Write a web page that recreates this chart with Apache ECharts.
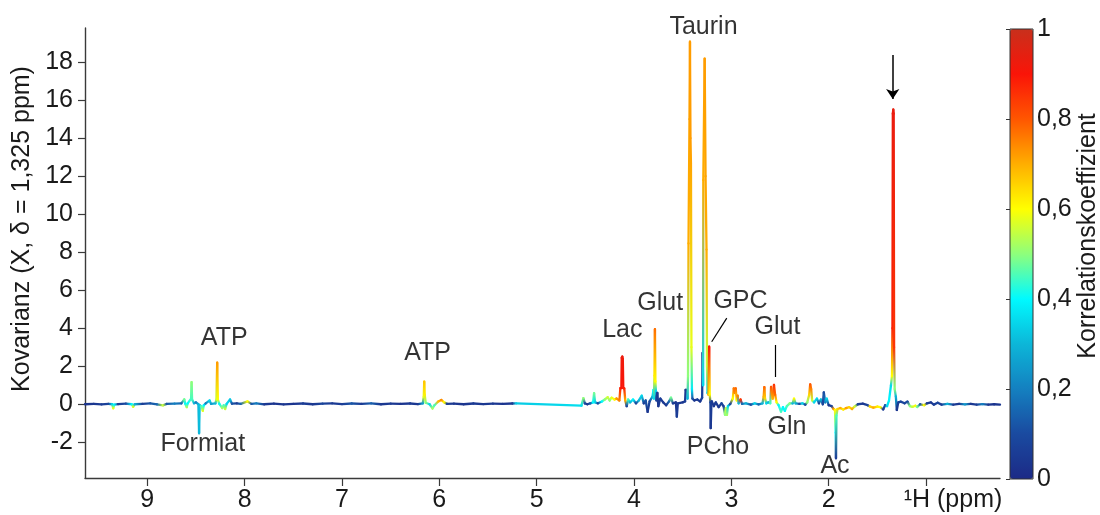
<!DOCTYPE html>
<html><head><meta charset="utf-8">
<script src="https://cdn.jsdelivr.net/npm/echarts@6/dist/echarts.min.js"></script>
<style>html,body{margin:0;padding:0;background:#fff}#c{width:1100px;height:515px}</style>
</head><body><div id="c"></div>
<script>
// ---- axis ticks ----
const xTicks = [1, 2, 3, 4, 5, 6, 7, 8, 9];
const yTicks = [-2, 0, 2, 4, 6, 8, 10, 12, 14, 16, 18];
const jetColors = ['#1c2a86', '#1a4aa0', '#1480c0', '#0cb6d8', '#00faff', '#8eff7c', '#ffff00', '#ffae00', '#ff5600', '#fa1408', '#c8301c'];

// ---- spectrum: [ppm, covariance, correlation] ----
const regionAromatic = [
  [9.64, 0.00, 0.03], [9.55, 0.02, 0.04], [9.47, -0.01, 0.06], [9.40, 0.02, 0.08],
  [9.36, 0.00, 0.35], [9.35, -0.21, 0.58], [9.34, -0.02, 0.40], [9.30, 0.01, 0.06],
  [9.22, 0.03, 0.10], [9.16, 0.00, 0.40], [9.145, -0.13, 0.57], [9.13, 0.00, 0.30],
  [9.05, 0.02, 0.06], [8.97, 0.05, 0.12], [8.90, 0.00, 0.15], [8.84, -0.06, 0.55],
  [8.80, 0.02, 0.12], [8.72, 0.03, 0.20], [8.65, 0.05, 0.15], [8.62, 0.26, 0.48],
  [8.61, 0.03, 0.40], [8.595, -0.15, 0.52], [8.585, 0.05, 0.40], [8.55, 0.30, 0.45],
  [8.545, 1.16, 0.50], [8.54, 0.25, 0.45], [8.52, 0.05, 0.30], [8.50, 0.10, 0.20],
  [8.475, 0.00, 0.30], [8.468, -1.53, 0.30], [8.462, -0.05, 0.32], [8.445, -0.10, 0.45],
  [8.43, -0.34, 0.57], [8.42, -0.05, 0.40], [8.40, 0.05, 0.20], [8.36, 0.20, 0.35],
  [8.345, 0.02, 0.25], [8.30, 0.05, 0.30], [8.29, 0.25, 0.55], [8.282, 2.19, 0.72],
  [8.275, 0.25, 0.60], [8.26, 0.02, 0.40], [8.23, -0.20, 0.52], [8.215, -0.05, 0.45],
  [8.20, -0.25, 0.55], [8.185, 0.02, 0.35], [8.15, 0.25, 0.33], [8.13, 0.03, 0.12],
  [8.08, 0.05, 0.06], [8.04, 0.02, 0.15], [7.97, 0.15, 0.60], [7.93, 0.02, 0.12],
  [7.88, 0.05, 0.20], [7.80, 0.00, 0.05]
];
const regionMiddle = [
  [7.70, 0.03, 0.03], [7.60, -0.01, 0.04], [7.50, 0.02, 0.03], [7.40, 0.04, 0.06],
  [7.30, 0.00, 0.04], [7.20, 0.03, 0.08], [7.10, 0.05, 0.05], [7.00, 0.01, 0.06],
  [6.90, 0.04, 0.12], [6.80, 0.02, 0.05], [6.70, 0.05, 0.14], [6.60, 0.00, 0.04],
  [6.50, 0.03, 0.05], [6.40, 0.02, 0.03], [6.30, 0.04, 0.05], [6.22, 0.01, 0.04],
  [6.17, 0.05, 0.25], [6.16, 0.40, 0.58], [6.155, 1.19, 0.67], [6.15, 0.50, 0.62],
  [6.14, 0.08, 0.50], [6.10, 0.00, 0.35], [6.07, -0.22, 0.52], [6.05, -0.05, 0.45],
  [6.01, 0.15, 0.68], [5.98, 0.23, 0.74], [5.95, 0.10, 0.60], [5.92, 0.02, 0.06],
  [5.85, 0.03, 0.04], [5.75, 0.00, 0.03], [5.65, 0.04, 0.05], [5.55, 0.01, 0.04],
  [5.45, 0.03, 0.05], [5.35, 0.02, 0.03], [5.25, 0.04, 0.04], [5.21, 0.05, 0.33]
];
const regionAliphaticHigh = [
  [4.54, -0.07, 0.36], [4.52, 0.32, 0.50], [4.505, 0.05, 0.10], [4.48, 0.00, 0.04],
  [4.45, 0.05, 0.12], [4.42, 0.10, 0.40], [4.41, 0.58, 0.48], [4.40, 0.10, 0.35],
  [4.37, 0.05, 0.08], [4.33, 0.15, 0.40], [4.30, 0.25, 0.50], [4.27, 0.37, 0.56],
  [4.25, 0.20, 0.50], [4.23, 0.35, 0.58], [4.20, 0.25, 0.60], [4.18, 0.30, 0.72],
  [4.15, 0.20, 0.75], [4.14, 0.85, 0.88], [4.13, 0.85, 0.90], [4.126, 2.45, 0.92],
  [4.12, 2.51, 0.93], [4.115, 2.40, 0.92], [4.11, 0.85, 0.90], [4.10, 0.84, 0.88],
  [4.09, 0.20, 0.70], [4.075, -0.10, 0.08], [4.06, 0.25, 0.45], [4.04, 0.10, 0.30],
  [4.01, 0.25, 0.40], [3.98, 0.05, 0.08], [3.95, 0.20, 0.30], [3.92, 0.45, 0.35],
  [3.90, 0.05, 0.06], [3.88, 0.20, 0.12], [3.86, -0.40, 0.04], [3.84, 0.15, 0.08],
  [3.81, 0.40, 0.30], [3.80, 0.75, 0.40], [3.795, 0.30, 0.35], [3.79, 1.50, 0.62],
  [3.785, 3.95, 0.77], [3.78, 1.20, 0.60], [3.775, 0.70, 0.35], [3.77, 0.20, 0.08],
  [3.76, 0.60, 0.05], [3.75, -0.10, 0.04], [3.73, 0.30, 0.06], [3.70, 0.10, 0.04],
  [3.67, -0.05, 0.05], [3.64, 0.15, 0.15], [3.62, 0.35, 0.48], [3.60, 0.05, 0.06],
  [3.57, 0.10, 0.04], [3.56, -0.65, 0.06], [3.55, 0.05, 0.05], [3.50, 0.10, 0.04],
  [3.475, 0.15, 0.06], [3.47, 0.75, 0.04], [3.455, 0.75, 0.05], [3.45, 0.30, 0.30],
  [3.445, 1.50, 0.50], [3.44, 8.46, 0.70], [3.43, 15.0, 0.71], [3.425, 19.08, 0.72],
  [3.42, 14.0, 0.72], [3.415, 12.68, 0.71], [3.41, 3.0, 0.58], [3.405, 0.80, 0.38],
  [3.40, 0.30, 0.12], [3.38, 0.20, 0.04], [3.35, 0.25, 0.05], [3.32, 0.15, 0.04],
  [3.30, 0.35, 0.08], [3.295, 2.70, 0.04], [3.29, 1.0, 0.35], [3.288, 11.8, 0.70],
  [3.28, 15.5, 0.71], [3.274, 18.19, 0.72], [3.265, 12.0, 0.71], [3.255, 8.14, 0.70],
  [3.25, 2.0, 0.55], [3.245, 0.6, 0.35], [3.235, 0.5, 0.70], [3.228, 3.03, 0.90],
  [3.222, 0.5, 0.60], [3.215, 0.10, 0.08], [3.212, -1.26, 0.04], [3.205, 0.0, 0.06],
  [3.20, 0.15, 0.05], [3.18, -0.10, 0.04], [3.16, 0.10, 0.06], [3.13, -0.15, 0.04],
  [3.10, 0.05, 0.08], [3.08, -0.10, 0.06], [3.065, -0.55, 0.50], [3.055, -0.20, 0.55],
  [3.045, -0.56, 0.52], [3.035, -0.10, 0.35], [3.01, 0.02, 0.08]
];
const regionAliphaticLow = [
  [2.985, 0.30, 0.60], [2.975, 0.84, 0.76], [2.965, 0.60, 0.75], [2.955, 0.84, 0.78],
  [2.945, 0.20, 0.60], [2.935, 0.45, 0.75], [2.925, 0.05, 0.30], [2.905, 0.25, 0.85],
  [2.89, 0.02, 0.15], [2.85, 0.05, 0.30], [2.80, -0.02, 0.10], [2.76, 0.05, 0.35],
  [2.72, 0.00, 0.15], [2.68, 0.05, 0.30], [2.668, 0.40, 0.70], [2.661, 0.90, 0.78],
  [2.654, 0.30, 0.65], [2.64, 0.05, 0.35], [2.62, 0.10, 0.30], [2.60, 0.05, 0.45],
  [2.592, 0.92, 0.80], [2.575, 0.30, 0.70], [2.562, 1.02, 0.85], [2.55, 0.50, 0.78],
  [2.535, 0.10, 0.60], [2.515, -0.05, 0.40], [2.49, -0.39, 0.45], [2.47, -0.15, 0.40],
  [2.45, -0.35, 0.40], [2.43, -0.10, 0.45], [2.40, 0.05, 0.50], [2.37, 0.05, 0.30],
  [2.356, 0.30, 0.60], [2.34, 0.05, 0.30], [2.30, 0.02, 0.10], [2.27, 0.05, 0.35],
  [2.24, -0.02, 0.08], [2.22, 0.10, 0.50], [2.20, 0.50, 0.65], [2.19, 1.05, 0.80],
  [2.18, 0.80, 0.75], [2.17, 0.20, 0.55], [2.15, 0.10, 0.35], [2.12, 0.30, 0.35],
  [2.10, 0.05, 0.08], [2.08, 0.25, 0.30], [2.06, 0.00, 0.08], [2.05, 0.63, 0.10],
  [2.035, 0.10, 0.20], [2.02, 0.30, 0.35], [2.00, -0.05, 0.04], [1.97, -0.10, 0.08],
  [1.95, -0.25, 0.72], [1.935, -0.30, 0.60], [1.928, -1.50, 0.40], [1.925, -2.84, 0.06],
  [1.92, -0.60, 0.45], [1.91, -0.25, 0.65], [1.88, -0.20, 0.70], [1.85, -0.28, 0.62],
  [1.82, -0.20, 0.72], [1.79, -0.15, 0.65], [1.76, -0.25, 0.70], [1.73, -0.10, 0.55],
  [1.70, 0.00, 0.08], [1.65, 0.03, 0.04], [1.60, -0.05, 0.08], [1.575, -0.12, 0.65],
  [1.54, -0.18, 0.70], [1.50, -0.12, 0.62], [1.47, -0.15, 0.60], [1.44, -0.27, 0.06],
  [1.42, -0.05, 0.12], [1.40, -0.10, 0.35], [1.38, 0.20, 0.40], [1.36, 1.00, 0.35],
  [1.35, 1.5, 0.60], [1.345, 4.0, 0.88], [1.341, 15.3, 0.93], [1.336, 15.51, 0.94],
  [1.332, 15.3, 0.93], [1.328, 3.0, 0.85], [1.322, 0.8, 0.50], [1.31, 0.40, 0.30],
  [1.30, -0.30, 0.04], [1.285, 0.10, 0.06], [1.26, 0.14, 0.08], [1.22, 0.05, 0.08],
  [1.19, 0.14, 0.10], [1.165, -0.10, 0.50], [1.14, -0.14, 0.55], [1.11, -0.08, 0.60],
  [1.09, -0.14, 0.48], [1.06, 0.00, 0.12], [1.02, -0.05, 0.60], [0.99, 0.05, 0.06],
  [0.95, 0.10, 0.04], [0.92, -0.02, 0.06], [0.88, 0.08, 0.08], [0.84, -0.02, 0.06],
  [0.78, 0.02, 0.30], [0.72, -0.02, 0.06], [0.66, 0.02, 0.04], [0.60, -0.01, 0.25],
  [0.54, 0.02, 0.04], [0.48, -0.02, 0.06], [0.42, 0.01, 0.20], [0.36, -0.02, 0.04],
  [0.30, 0.00, 0.03], [0.24, -0.02, 0.04]
];

// ---- annotations ----
const labelNames = ['ATP', 'Formiat', 'ATP', 'Lac', 'Glut', 'Taurin', 'GPC', 'Glut', 'Gln', 'PCho', 'Ac'];
const labelShift = [8.21, 8.43, 6.12, 4.12, 3.73, 3.286, 2.906, 2.526, 2.428, 3.137, 1.935];
const labelCov = [3.49, -2.09, 2.70, 3.91, 5.33, 19.86, 5.41, 4.07, -1.19, -2.25, -3.25];
const leaderLines = [[[3.2016, 3.29], [3.047, 4.53]], [[2.551, 3.12], [2.551, 1.44]]];
const arrowLine = [[1.342, 18.38], [1.342, 16.07]];

const spectrum = regionAromatic.concat(regionMiddle, regionAliphaticHigh, regionAliphaticLow);
const FONT = 'Liberation Sans, Arial, Helvetica, sans-serif';
const FS = 25;
const AX = '#3a3a3a';
const TXT = '#1a1a1a';

function renderSegment(params, api) {
  const i = params.dataIndexInside;
  if (i === 0) return null;
  const p0 = api.coord([api.value(0, i - 1), api.value(1, i - 1)]);
  const p1 = api.coord([api.value(0, i), api.value(1, i)]);
  const c1 = api.visual('color', i);
  const c0 = api.visual('color', i - 1) || c1;
  let stroke = c1;
  if (Math.abs(p1[0] - p0[0]) + Math.abs(p1[1] - p0[1]) > 0.5) {
    stroke = new echarts.graphic.LinearGradient(p0[0], p0[1], p1[0], p1[1],
      [{offset: 0, color: c0}, {offset: 1, color: c1}], true);
  }
  return {type: 'line', shape: {x1: p0[0], y1: p0[1], x2: p1[0], y2: p1[1]},
    style: {stroke: stroke, lineWidth: 2.3, lineCap: 'round', lineJoin: 'round'}};
}

const chart = echarts.init(document.getElementById('c'), null, {renderer: 'canvas'});
chart.setOption({
  animation: false,
  backgroundColor: '#fff',
  textStyle: {fontFamily: FONT},
  grid: [
    {left: 85, right: 100, top: 28, bottom: 37, outerBoundsMode: 'none'},
    {left: 1010, top: 29, width: 23, height: 450, show: true, borderColor: '#333', borderWidth: 1,
     backgroundColor: 'transparent', z: 10, outerBoundsMode: 'none'}
  ],
  xAxis: [
    {type: 'value', gridIndex: 0, inverse: true, min: 0.24, max: 9.64,
     axisLine: {onZero: false, lineStyle: {color: AX, width: 1.4}},
     axisTick: {customValues: xTicks, length: 8, lineStyle: {color: AX, width: 1.2}},
     axisLabel: {customValues: xTicks, fontSize: FS, color: TXT, margin: 10,
       formatter: v => v === 1 ? '{u|¹H (ppm)}' : String(v),
       rich: {u: {fontSize: FS, color: TXT, fontFamily: FONT, padding: [0, 0, 0, 54]}}},
     splitLine: {show: false}},
    {type: 'value', gridIndex: 1, min: 0, max: 1, show: false}
  ],
  yAxis: [
    {type: 'value', gridIndex: 0, min: -3.88, max: 19.8,
     axisLine: {show: true, onZero: false, lineStyle: {color: AX, width: 1.4}},
     axisTick: {show: true, customValues: yTicks, length: 7, lineStyle: {color: AX, width: 1.2}},
     axisLabel: {customValues: yTicks, fontSize: FS, color: TXT, margin: 12},
     splitLine: {show: false},
     name: 'Kovarianz (X, δ = 1,325 ppm)', nameLocation: 'middle', nameGap: 45,
     nameTextStyle: {fontSize: FS, color: TXT, padding: [0, 0, 0, 48]}},
    {type: 'value', gridIndex: 1, min: 0, max: 1, interval: 0.2, position: 'right', z: 12,
     axisLine: {show: false},
     axisTick: {show: true, inside: true, length: 4, lineStyle: {color: '#333'}},
     axisLabel: {fontSize: FS, color: TXT, margin: 4,
       formatter: v => (v === 0 || v === 1) ? String(v) : v.toFixed(1).replace('.', ',')},
     splitLine: {show: false},
     name: 'Korrelationskoeffizient', nameLocation: 'middle', nameGap: 42,
     nameTextStyle: {fontSize: FS, color: TXT, padding: [0, 0, 0, 36]}}
  ],
  visualMap: {
    type: 'continuous', min: 0, max: 1, dimension: 2, seriesIndex: 0,
    calculable: false, hoverLink: false, show: true,
    left: 1010, top: 29, itemWidth: 23, itemHeight: 450, padding: 0,
    inRange: {color: jetColors}
  },
  series: [
    {type: 'custom', xAxisIndex: 0, yAxisIndex: 0, data: spectrum,
     encode: {x: 0, y: 1}, dimensions: ['ppm', 'cov', 'corr'],
     renderItem: renderSegment, clip: false, silent: true},
    {type: 'scatter', xAxisIndex: 0, yAxisIndex: 0, symbolSize: 0, clip: false, silent: true,
     data: labelNames.map((n, k) => ({name: n, value: [labelShift[k], labelCov[k]]})),
     label: {show: true, position: 'inside', formatter: '{b}', fontSize: FS, color: '#000', fontFamily: FONT}},
    {type: 'lines', coordinateSystem: 'cartesian2d', xAxisIndex: 0, yAxisIndex: 0, silent: true,
     data: leaderLines.map(c => ({coords: c})),
     lineStyle: {color: '#000', width: 1.2, opacity: 1}, symbol: 'none'},
    {type: 'lines', coordinateSystem: 'cartesian2d', xAxisIndex: 0, yAxisIndex: 0, silent: true,
     data: [{coords: arrowLine}],
     lineStyle: {color: '#000', width: 1.5, opacity: 1}, symbol: ['none', 'arrow'], symbolSize: 10},
    {type: 'scatter', xAxisIndex: 1, yAxisIndex: 1, data: [], silent: true}
  ]
});
</script></body></html>
